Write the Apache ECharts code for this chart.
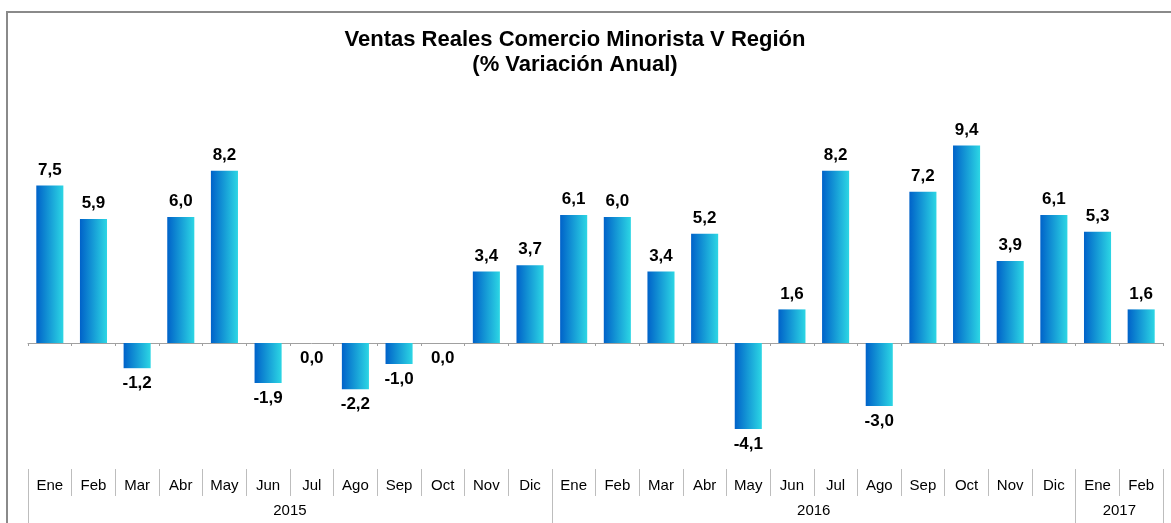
<!DOCTYPE html>
<html lang="es">
<head>
  <meta charset="UTF-8">
  <title>Ventas Reales Comercio Minorista V Región</title>
  <style>
    html, body { margin: 0; padding: 0; background: #fff; }
    #main { width: 1171px; height: 523px; }
  </style>
</head>
<body>
  <div id="main"></div>
  <script src="https://cdn.jsdelivr.net/npm/echarts@6/dist/echarts.min.js"></script>
  <script>
    // datos
    const months = ['Ene', 'Feb', 'Mar', 'Abr', 'May', 'Jun', 'Jul', 'Ago', 'Sep', 'Oct', 'Nov', 'Dic',
                    'Ene', 'Feb', 'Mar', 'Abr', 'May', 'Jun', 'Jul', 'Ago', 'Sep', 'Oct', 'Nov', 'Dic',
                    'Ene', 'Feb']
    const values = [7.5, 5.9, -1.2, 6.0, 8.2, -1.9, 0.0, -2.2, -1.0, 0.0, 3.4, 3.7,
                    6.1, 6.0, 3.4, 5.2, -4.1, 1.6, 8.2, -3.0, 7.2, 9.4, 3.9, 6.1,
                    5.3, 1.6]
    const years = ['2015', '2016', '2017']
    const yearCounts = [12, 12, 2]

    // eje de años: puntos en los bordes de los meses (boundaryGap false)
    const yearAxisData = new Array(months.length + 1).fill('')
    const yearBorders = [0]
    let start = 0
    years.forEach(function (y, i) {
      yearAxisData[start + yearCounts[i] / 2] = y
      start += yearCounts[i]
      yearBorders.push(start)
    })

    const fmt = v => v.toFixed(1).replace('.', ',')

    const myChart = echarts.init(document.getElementById('main'))
    const option = {
      backgroundColor: '#fff',
      textStyle: { fontFamily: 'Liberation Sans, Arial, sans-serif' },
      title: {
        text: 'Ventas Reales Comercio Minorista V Región\n(% Variación Anual)',
        left: 570,
        textAlign: 'center',
        top: 22,
        textStyle: { fontSize: 22, fontWeight: 'bold', color: '#000', lineHeight: 25 }
      },
      graphic: [{
        type: 'rect',
        shape: { x: 7, y: 12, width: 1200, height: 600 },
        style: { fill: 'none', stroke: '#8a8a8a', lineWidth: 2 },
        silent: true
      }],
      grid: { left: 28, right: 8, top: 133, bottom: 54 },
      xAxis: [
        {
          type: 'category',
          data: months,
          axisLine: { onZero: true, lineStyle: { color: '#a0a0a0', width: 1 } },
          axisTick: { show: true, length: 3, lineStyle: { color: '#a0a0a0' } },
          axisLabel: { show: false }
        },
        {
          type: 'category',
          data: months,
          position: 'bottom',
          axisLine: { show: false },
          axisTick: { show: true, length: 27, lineStyle: { color: '#bdbdbd' } },
          axisLabel: { margin: 9, fontSize: 15, color: '#000', interval: 0 }
        },
        {
          type: 'category',
          data: yearAxisData,
          boundaryGap: false,
          position: 'bottom',
          axisLine: { show: false },
          axisTick: {
            show: true, length: 60,
            interval: function (i) { return yearBorders.indexOf(i) >= 0 },
            lineStyle: { color: '#bdbdbd' }
          },
          axisLabel: {
            margin: 34, fontSize: 15, color: '#000',
            interval: function (i, v) { return v !== '' }
          }
        }
      ],
      yAxis: { type: 'value', min: -6, max: 10, show: false },
      series: [{
        type: 'bar',
        xAxisIndex: 0,
        data: values.map(function (v) {
          return {
            value: v,
            label: { position: v > 0 ? 'top' : 'bottom' }
          }
        }),
        barWidth: '62%',
        itemStyle: {
          color: new echarts.graphic.LinearGradient(0, 0, 1, 0, [
            { offset: 0, color: '#0062c9' },
            { offset: 1, color: '#2cd6e4' }
          ])
        },
        label: {
          show: true,
          distance: 7,
          fontSize: 17,
          fontWeight: 'bold',
          color: '#000',
          formatter: p => fmt(p.value)
        }
      }]
    }
    myChart.setOption(option)
  </script>
</body>
</html>
